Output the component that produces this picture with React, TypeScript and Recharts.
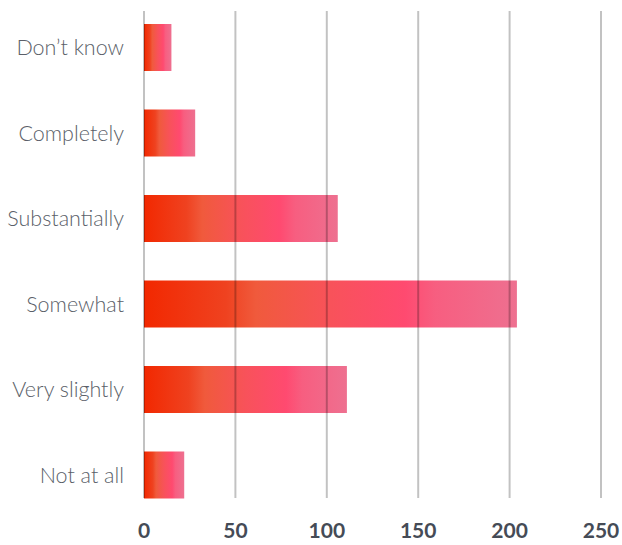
import React from "react";
import {
  BarChart,
  Bar,
  XAxis,
  YAxis,
  CartesianGrid,
} from "recharts";

const categories = [
  "Don’t know",
  "Completely",
  "Substantially",
  "Somewhat",
  "Very slightly",
  "Not at all",
];
const responses = [15, 28, 106, 204, 111, 22];
const xTicks = [0, 50, 100, 150, 200, 250];

const data = categories.map((name, i) => ({ name, value: responses[i] }));

interface GridLineProps {
  x1?: number;
  x2?: number;
  y1?: number;
  y2?: number;
}

// Vertical grid lines stop a little short of the plot edges
const renderGridLine = ({ x1 = 0, x2 = 0, y1 = 0, y2 = 0 }: GridLineProps) => (
  <line
    key={`grid-${x1}`}
    x1={x1}
    x2={x2}
    y1={y1 + 6}
    y2={y2 - 20}
    stroke="rgba(0,0,0,0.24)"
    strokeWidth={2}
  />
);

const App: React.FC = () => {
  return (
    <div
      style={{
        position: "absolute",
        left: 0,
        top: 0,
        width: 622,
        height: 545,
        background: "#fff",
      }}
    >
      <BarChart
        width={622}
        height={545}
        data={data}
        layout="vertical"
        margin={{ top: 5, right: 21, bottom: 0, left: 0 }}
      >
        <defs>
          <linearGradient id="barFill" x1="0" y1="0" x2="1" y2="0">
            <stop offset="0%" stopColor="#F22800" />
            <stop offset="22%" stopColor="#EF4220" />
            <stop offset="30%" stopColor="#F05A3C" />
            <stop offset="50%" stopColor="#F8525A" />
            <stop offset="70%" stopColor="#FF4A70" />
            <stop offset="78%" stopColor="#F75E80" />
            <stop offset="100%" stopColor="#EE7090" />
          </linearGradient>
        </defs>
        <XAxis
          type="number"
          domain={[0, 250]}
          ticks={xTicks}
          axisLine={false}
          tickLine={false}
          tickSize={0}
          tickMargin={5}
          height={27}
          interval={0}
          tick={{
            fill: "#454b56",
            fontSize: 21,
            fontWeight: 700,
            fontFamily: "Lato",
          }}
        />
        <YAxis
          type="category"
          dataKey="name"
          width={144}
          axisLine={false}
          tickLine={false}
          tickSize={0}
          tickMargin={20}
          interval={0}
          tick={{
            fill: "#5b5f69",
            fontSize: 21.5,
            fontWeight: 300,
            fontFamily: "Lato",
          }}
        />
        <Bar
          dataKey="value"
          fill="url(#barFill)"
          barSize={47}
          isAnimationActive={false}
        />
        <CartesianGrid
          horizontal={false}
          vertical={renderGridLine}
          zIndex={1000}
        />
      </BarChart>
    </div>
  );
};

export default App;
